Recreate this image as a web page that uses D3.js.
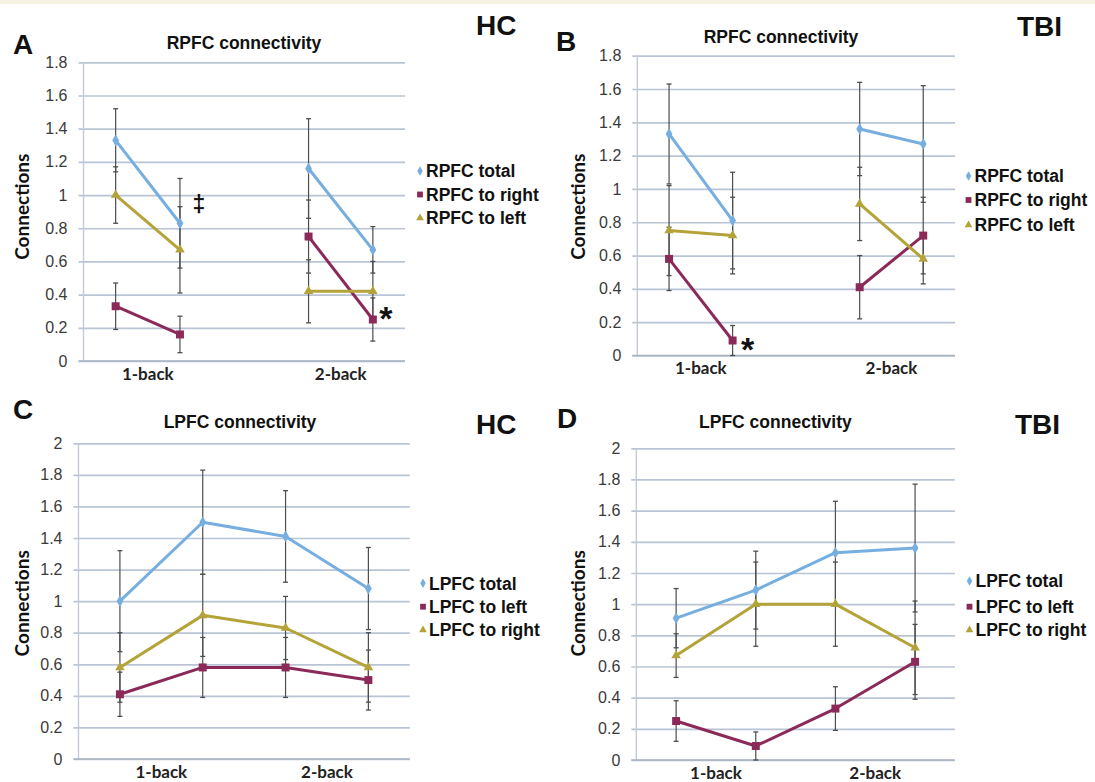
<!DOCTYPE html>
<html>
<head>
<meta charset="utf-8">
<script src="https://cdn.jsdelivr.net/npm/d3@7"></script>
<style>
  html, body { margin: 0; padding: 0; background: #ffffff; }
  svg { display: block; }
</style>
</head>
<body>
<svg id="chart" width="1095" height="782"></svg>
<script>
// ---------------- DATA ----------------
const rpfcSlots = ["1-back a", "1-back b", "gap", "2-back a", "2-back b"];
const lpfcSlots = ["1-back a", "1-back b", "2-back a", "2-back b"];
const pointSlots = ["1-back a", "1-back b", "2-back a", "2-back b"];
const groupLabels = ["1-back", "2-back"];
const groupMembers = [["1-back a", "1-back b"], ["2-back a", "2-back b"]];

const rpfcTicks = [0, 0.2, 0.4, 0.6, 0.8, 1.0, 1.2, 1.4, 1.6, 1.8];
const rpfcTickLabels = ["0", "0.2", "0.4", "0.6", "0.8", "1", "1.2", "1.4", "1.6", "1.8"];
const lpfcTicks = [0, 0.2, 0.4, 0.6, 0.8, 1.0, 1.2, 1.4, 1.6, 1.8, 2.0];
const lpfcTickLabels = ["0", "0.2", "0.4", "0.6", "0.8", "1", "1.2", "1.4", "1.6", "1.8", "2"];

// Panel A: HC, RPFC
const aTotal = [1.33, 0.83, 1.16, 0.67];
const aTotalErr = [0.19, 0.27, 0.30, 0.14];
const aRight = [0.33, 0.16, 0.75, 0.25];
const aRightErr = [0.14, 0.11, 0.22, 0.13];
const aLeft = [1.00, 0.67, 0.42, 0.42];
const aLeftErr = [0.17, 0.26, 0.19, 0.18];

// Panel B: TBI, RPFC
const bTotal = [1.33, 0.81, 1.36, 1.27];
const bTotalErr = [0.30, 0.29, 0.28, 0.35];
const bRight = [0.58, 0.09, 0.41, 0.72];
const bRightErr = [0.19, 0.09, 0.19, 0.23];
const bLeft = [0.75, 0.72, 0.91, 0.58];
const bLeftErr = [0.27, 0.23, 0.22, 0.15];

// Panel C: HC, LPFC
const cTotal = [1.00, 1.50, 1.41, 1.08];
const cTotalErr = [0.32, 0.33, 0.29, 0.26];
const cLeft = [0.41, 0.58, 0.58, 0.50];
const cLeftErr = [0.14, 0.19, 0.19, 0.19];
const cRight = [0.58, 0.91, 0.83, 0.58];
const cRightErr = [0.22, 0.26, 0.20, 0.22];

// Panel D: TBI, LPFC
const dTotal = [0.91, 1.09, 1.33, 1.36];
const dTotalErr = [0.19, 0.25, 0.33, 0.41];
const dLeft = [0.25, 0.09, 0.33, 0.63];
const dLeftErr = [0.13, 0.09, 0.14, 0.24];
const dRight = [0.67, 1.00, 1.00, 0.72];
const dRightErr = [0.14, 0.27, 0.27, 0.30];

const rpfcSeriesNames = ["RPFC total", "RPFC to right", "RPFC to left"];
const lpfcSeriesNames = ["LPFC total", "LPFC to left", "LPFC to right"];

// ---------------- STYLE ----------------
const BLUE = "#77aee0", PURPLE = "#8b2a59", OLIVE = "#b3a338";
const GRID = "#b9c4d4", ERR = "#4d4d4d";
const HEAD = "'Liberation Sans', Arial, Helvetica, sans-serif";
const CAL = "Lato, 'Open Sans', sans-serif";

const svg = d3.select("#chart");
svg.append("rect").attr("x", 0).attr("y", 0).attr("width", 1095).attr("height", 782).attr("fill", "#ffffff");
svg.append("rect").attr("x", 0).attr("y", 0).attr("width", 1095).attr("height", 4).attr("fill", "#f6f2e1");

const symbols = [d3.symbolDiamond, d3.symbolSquare, d3.symbolTriangle];
const symbolSizes = [40, 64, 40];
const legendSizes = [26, 34, 26];

function drawPanel(p) {
  const g = svg.append("g");
  const x = d3.scaleBand().domain(p.slots).range([p.x0, p.x1]).paddingInner(0).paddingOuter(0);
  const y = d3.scaleLinear().domain([0, p.ticks[p.ticks.length - 1]]).range([p.y0, p.y1]);
  const cx = s => x(s) + x.bandwidth() / 2;

  // gridlines
  const ga = g.append("g").attr("transform", `translate(${p.x1},0)`)
    .call(d3.axisLeft(y).tickValues(p.ticks).tickSize(p.x1 - p.x0 + 5).tickFormat(""));
  ga.select(".domain").remove();
  ga.selectAll(".tick line").attr("stroke", GRID).attr("stroke-width", 1.7);

  // tick labels
  p.ticks.forEach((t, i) => {
    g.append("text").attr("x", p.x0 - 16).attr("y", y(t)).attr("dy", "0.35em")
      .attr("text-anchor", "end").attr("font-family", HEAD).attr("font-size", 16)
      .attr("fill", "#3a3a3a").text(p.tickLabels[i]);
  });

  // axis lines
  g.append("line").attr("x1", p.x0).attr("x2", p.x0).attr("y1", y(0)).attr("y2", y(p.ticks[p.ticks.length - 1]))
    .attr("stroke", "#c3cad5").attr("stroke-width", 1.4);
  g.append("line").attr("x1", p.x0 - 5).attr("x2", p.x1).attr("y1", y(0)).attr("y2", y(0))
    .attr("stroke", "#a9b2c0").attr("stroke-width", 1.7);

  // category labels
  groupLabels.forEach((lab, i) => {
    const mx = (cx(groupMembers[i][0]) + cx(groupMembers[i][1])) / 2;
    g.append("text").attr("x", mx).attr("y", y(0) + 18.5).attr("text-anchor", "middle")
      .attr("font-family", CAL).attr("font-weight", 700).attr("font-size", 17)
      .attr("fill", "#222").text(lab);
  });

  // y title
  g.append("text").attr("transform", `translate(${p.ytx},${p.yty}) rotate(-90)`)
    .attr("text-anchor", "middle").attr("dy", "0.35em")
    .attr("font-family", CAL).attr("font-weight", 700).attr("font-size", 19)
    .attr("fill", "#111").text("Connections");

  // chart title
  g.append("text").attr("x", p.titleX).attr("y", p.titleY).attr("text-anchor", "middle")
    .attr("font-family", HEAD).attr("font-weight", 700).attr("font-size", 17.5)
    .attr("fill", "#111").text(p.title);

  // panel letter
  g.append("text").attr("x", p.letterX).attr("y", p.letterY)
    .attr("font-family", HEAD).attr("font-weight", 700).attr("font-size", 28)
    .attr("fill", "#111").text(p.letter);
  // group label
  g.append("text").attr("x", p.groupX).attr("y", p.groupY)
    .attr("font-family", HEAD).attr("font-weight", 700).attr("font-size", 28)
    .attr("fill", "#111").text(p.group);

  const colors = [BLUE, PURPLE, OLIVE];
  const series = p.series.map((vals, k) => vals.map((v, i) => ({ slot: pointSlots[i], v, e: p.errs[k][i] })));

  // error bars
  series.forEach(s => {
    const eb = g.append("g");
    s.forEach(d => {
      const xx = cx(d.slot);
      const lo = Math.max(0, d.v - d.e), hi = d.v + d.e;
      eb.append("line").attr("x1", xx).attr("x2", xx).attr("y1", y(lo)).attr("y2", y(hi))
        .attr("stroke", ERR).attr("stroke-width", 1.2);
      [lo, hi].forEach(b => eb.append("line").attr("x1", xx - 2.5).attr("x2", xx + 2.5)
        .attr("y1", y(b)).attr("y2", y(b)).attr("stroke", ERR).attr("stroke-width", 1.3));
    });
  });

  // lines + markers
  series.forEach((s, k) => {
    const line = d3.line().x(d => cx(d.slot)).y(d => y(d.v));
    if (p.segmented) {
      [[0, 1], [2, 3]].forEach(pair => {
        g.append("path").datum(pair.map(i => s[i])).attr("d", line).attr("fill", "none")
          .attr("stroke", colors[k]).attr("stroke-width", 3).attr("stroke-linejoin", "round");
      });
    } else {
      g.append("path").datum(s).attr("d", line).attr("fill", "none")
        .attr("stroke", colors[k]).attr("stroke-width", 3).attr("stroke-linejoin", "round");
    }
    s.forEach(d => {
      g.append("path").attr("d", d3.symbol().type(symbols[k]).size(symbolSizes[k])())
        .attr("transform", `translate(${cx(d.slot)},${y(d.v)})`).attr("fill", colors[k]);
    });
  });

  // legend
  p.names.forEach((nm, k) => {
    const ly = p.legendY[k];
    g.append("path").attr("d", d3.symbol().type(symbols[k]).size(legendSizes[k])())
      .attr("transform", `translate(${p.legendX - 6},${ly})`).attr("fill", colors[k]);
    g.append("text").attr("x", p.legendX).attr("y", ly).attr("dy", "0.36em")
      .attr("font-family", HEAD).attr("font-weight", 700).attr("font-size", 17.5)
      .attr("fill", "#111").text(nm);
  });

  // significance marks
  (p.marks || []).forEach(m => {
    g.append("text").attr("x", cx(m.slot) + m.dx).attr("y", y(m.v)).attr("dy", m.dy)
      .attr("text-anchor", "middle").attr("font-family", HEAD).attr("font-weight", 700)
      .attr("font-size", m.size).attr("fill", "#111").text(m.text);
  });
}

drawPanel({
  slots: rpfcSlots, ticks: rpfcTicks, tickLabels: rpfcTickLabels,
  x0: 83.5, x1: 405, y0: 361, y1: 62.3, segmented: true,
  series: [aTotal, aRight, aLeft], errs: [aTotalErr, aRightErr, aLeftErr],
  names: rpfcSeriesNames, legendX: 426, legendY: [171, 194.5, 218],
  title: "RPFC connectivity", titleX: 244, titleY: 48.5,
  letter: "A", letterX: 13, letterY: 54, group: "HC", groupX: 476, groupY: 35,
  ytx: 22.4, yty: 206.7,
  marks: [
    { slot: "1-back b", v: 0.83, dx: 19, dy: "-0.5em", text: "‡", size: 23 },
    { slot: "2-back b", v: 0.25, dx: 13, dy: "0.3em", text: "*", size: 34 }
  ]
});

drawPanel({
  slots: rpfcSlots, ticks: rpfcTicks, tickLabels: rpfcTickLabels,
  x0: 637.3, x1: 955, y0: 355.5, y1: 55.7, segmented: true,
  series: [bTotal, bRight, bLeft], errs: [bTotalErr, bRightErr, bLeftErr],
  names: rpfcSeriesNames, legendX: 974.5, legendY: [176, 200, 225],
  title: "RPFC connectivity", titleX: 781, titleY: 43,
  letter: "B", letterX: 556, letterY: 51, group: "TBI", groupX: 1017, groupY: 35.5,
  ytx: 578.2, yty: 206.7,
  marks: [
    { slot: "1-back b", v: 0.09, dx: 15, dy: "0.6em", text: "*", size: 34 }
  ]
});

drawPanel({
  slots: lpfcSlots, ticks: lpfcTicks, tickLabels: lpfcTickLabels,
  x0: 78.5, x1: 409.8, y0: 759, y1: 443.3, segmented: false,
  series: [cTotal, cLeft, cRight], errs: [cTotalErr, cLeftErr, cRightErr],
  names: lpfcSeriesNames, legendX: 429, legendY: [583.3, 606.7, 630],
  title: "LPFC connectivity", titleX: 240, titleY: 428,
  letter: "C", letterX: 13, letterY: 419, group: "HC", groupX: 476, groupY: 433.5,
  ytx: 22.4, yty: 603.3
});

drawPanel({
  slots: lpfcSlots, ticks: lpfcTicks, tickLabels: lpfcTickLabels,
  x0: 636.3, x1: 954.9, y0: 760, y1: 448.3, segmented: false,
  series: [dTotal, dLeft, dRight], errs: [dTotalErr, dLeftErr, dRightErr],
  names: lpfcSeriesNames, legendX: 975.5, legendY: [581, 606.7, 630],
  title: "LPFC connectivity", titleX: 775.4, titleY: 428,
  letter: "D", letterX: 557, letterY: 428, group: "TBI", groupX: 1015, groupY: 433.5,
  ytx: 578.2, yty: 603.3
});
</script>
</body>
</html>
